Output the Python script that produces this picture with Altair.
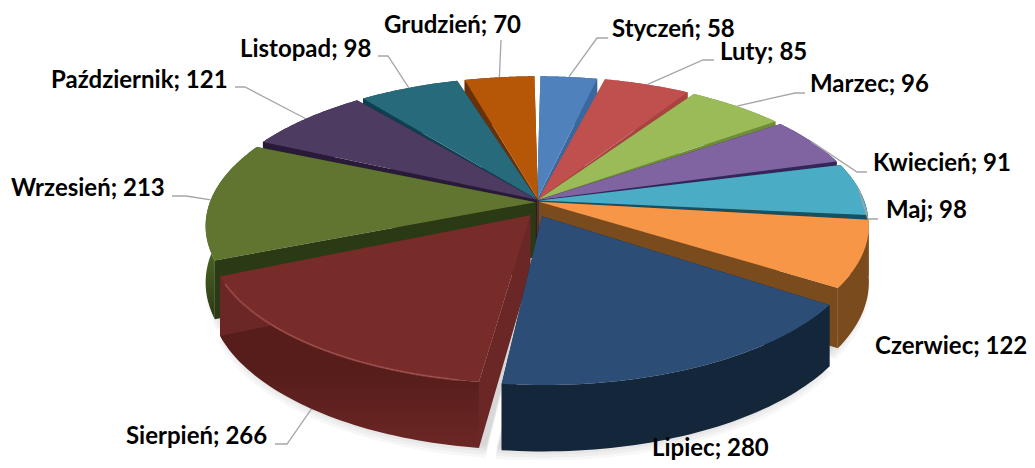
import math
import altair as alt
import pandas as pd

months = ["Styczeń", "Luty", "Marzec", "Kwiecień", "Maj", "Czerwiec", "Lipiec",
          "Sierpień", "Wrzesień", "Październik", "Listopad", "Grudzień"]
values = [58, 85, 96, 91, 98, 122, 280, 266, 213, 121, 98, 70]
tops = ["#4F81BD", "#C0504D", "#9BBB59", "#8064A2", "#4BACC6", "#F79646",
        "#2C4D75", "#772C2A", "#5F7530", "#4D3B62", "#276A7C", "#B65708"]
walls = ["#3A689E", "#A84340", "#6F8C38", "#35265A", "#17505F", "#7A4B1D",
         "#14263A", "#561D1B", "#4F6A26", "#2A1A3A", "#0F4050", "#6A3008"]
sides = ["#3A689E", "#A84340", "#6F8C38", "#35265A", "#17505F", "#7A4B1D",
         "#14263A", "#6B2725", "#2A3A14", "#2A1A3A", "#0F4050", "#6A3008"]
# explosion of each slice in pie units (right, away from the viewer) and its radius
shift_x = [.000, .004, .004, .004, .006, .006, .015, -.020, -.004, .000, .000, .003]
shift_y = [.004, .004, .002, .000, -.004, -.012, -.112, -.105, -.015, .002, .004, .004]
radius = [1, 1, 1, 1, 1, 1, .96, .96, 1, 1, 1, 1]
# label anchor (left, vertical centre), leader elbow and leader end
label_x = [612, 720, 810, 873, 886, 875, 652, 126, 11, 51, 240, 384]
label_y = [30, 53, 85, 164, 211, 347, 449, 437, 189, 81, 50, 26]
elbow_x = [597, 703, 795, 857, 868, None, None, 287, 186, 245, 388, 501]
elbow_y = [38, 60, 93, 172, 219, None, None, 444, 196, 87, 56, 40]
end_x = [608, 714, 805, 867, 878, None, None, 275, 172, 235, 378, 501]
end_y = [38, 60, 93, 172, 219, None, None, 444, 196, 87, 56, 40]
leader_z = [0, 0, 0, 0, 0, 0, 0, 1, 0, 0, 0, 0]

CX, CY, RX, RY, K, H = 537, 200, 325, 143, .16, 55
INSET = 0.7
total = sum(values)


def project(X, Y, z=0.0):
    s = 1 / (1 + K * Y)
    return CX + RX * X * s, CY - RY * Y * s + H * z * s


def arc(t0, t1, dx, dy, z=0.0, r=1.0, n=48):
    pts = []
    for i in range(n + 1):
        t = math.radians(t0 + (t1 - t0) * i / n)
        pts.append(project(dx + r * math.sin(t), dy + r * math.cos(t), z))
    return pts


layers = []
xe = alt.X("x:Q", axis=None, scale=alt.Scale(domain=[8, 1027], nice=False, zero=False))
ye = alt.Y("y:Q", axis=None, scale=alt.Scale(domain=[460, 8], nice=False, zero=False))


def frame(points):
    return pd.DataFrame({"x": [p[0] for p in points], "y": [p[1] for p in points],
                         "i": range(len(points))})


def poly(points, fill, opacity=1.0):
    layers.append(alt.Chart(frame(points)).mark_line(
        fill=fill, stroke="transparent", strokeWidth=0, opacity=opacity).encode(
        x=xe, y=ye, order=alt.Order("i:Q")))


def path(points, color, width, opacity=1.0):
    layers.append(alt.Chart(frame(points)).mark_line(
        color=color, strokeWidth=width, opacity=opacity).encode(
        x=xe, y=ye, order=alt.Order("i:Q")))


slices = []
cum = 0
for i, v in enumerate(values):
    a0, a1 = cum / total * 360, (cum + v) / total * 360
    cum += v
    slices.append((i, a0 + INSET, a1 - INSET, shift_x[i], shift_y[i], radius[i]))

# soft shadow under the pie
for grow, z in [(1.0, 1.14), (.995, 1.11), (.99, 1.08), (.985, 1.05), (.98, 1.03)]:
    for i, a0, a1, dx, dy, r in slices:
        if 90 < (a0 + a1) / 2 < 300:
            poly([project(dx, dy, z)] + arc(a0 - 1, a1 + 1, dx, dy, z, r * grow), "#000000", 0.03)

order = sorted(slices, key=lambda s: -(s[4] + math.cos(math.radians((s[1] + s[2]) / 2))))
for i, a0, a1, dx, dy, r in order:
    apex = project(dx, dy)
    apex_b = project(dx, dy, 1)
    top_arc = arc(a0, a1, dx, dy, 0, r)
    bot_arc = arc(a0, a1, dx, dy, 1, r)
    poly(top_arc + bot_arc[::-1],
         alt.LinearGradient(gradient="linear", x1=0, y1=0, x2=0, y2=1,
                            stops=[alt.GradientStop(color=walls[i], offset=0),
                                   alt.GradientStop(color=walls[i], offset=.55),
                                   alt.GradientStop(color=sides[i], offset=1)]))
    for edge in (0, -1):
        poly([apex, top_arc[edge], bot_arc[edge], apex_b], sides[i])
    poly([apex] + top_arc, tops[i])
    if i == 7:
        path(arc(a0 + 3, a1 - 3, dx, dy, 0.0, r * 1.0), "#B05A56", 2.0, 0.55)

# leaders
cum = 0
for i, v in enumerate(values):
    mid = math.radians((cum + v / 2) / total * 360)
    cum += v
    if elbow_x[i] is None:
        continue
    start = project(shift_x[i] + radius[i] * math.sin(mid),
                    shift_y[i] + radius[i] * math.cos(mid), leader_z[i])
    path([start, (elbow_x[i], elbow_y[i]), (end_x[i], end_y[i])], "#A6A6A6", 1.3)

labels = pd.DataFrame({"x": label_x, "y": label_y,
                       "t": [f"{m}; {v}" for m, v in zip(months, values)]})
layers.append(alt.Chart(labels).mark_text(align="left", baseline="middle", font="Lato",
                                          fontWeight="bold", fontSize=24, color="#000000"
                                          ).encode(x=xe, y=ye, text="t:N"))

chart = alt.layer(*layers).properties(width=1019, height=452, padding=0,
                                      autosize=alt.AutoSizeParams(type="none")
                                      ).configure_view(stroke=None)
chart.save("out.html", embed_options={"renderer": "svg", "actions": False})
